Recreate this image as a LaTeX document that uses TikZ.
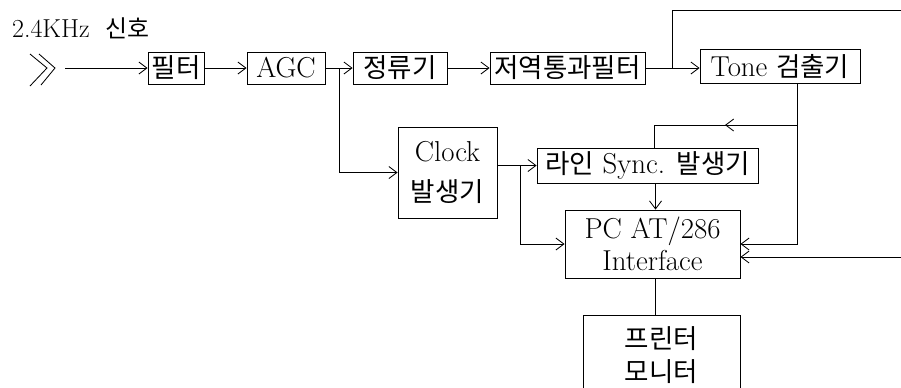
\documentclass[tikz,border=0pt]{standalone}
\usepackage{fontspec}
\newfontfamily\kr[Scale=0.92]{Noto Sans CJK KR}
\usetikzlibrary{arrows.meta, calc}

\begin{document}
\begin{tikzpicture}[x=0.25mm, y=-0.25mm, >={Straight Barb[length=2mm, width=3mm]},
  line width=0.6pt, font=\fontsize{20.5}{23}\selectfont,
  blk/.style={draw, inner sep=0pt, minimum height=8mm, align=center}]

\useasboundingbox (0,0) rectangle (901,387);

\node[anchor=base west, font=\fontsize{18.5}{22}\selectfont] (title) at (7,37) {2.4KHz\ \ {\kr 신호}};

% ---- input terminal ----------------------------------------------------------------
\draw (30,54) -- (47,68) -- (30,86);
\draw (39,54) -- (55,68) -- (41,85);
\coordinate (in) at (65,68);

% ---- top row -----------------------------------------------------------------------
\node[blk, minimum width=14mm] (filt) at (176,68) {\kr 필터};
\node[blk, minimum width=19.5mm] (agc) at (286,68) {AGC};
\node[blk, minimum width=23.5mm] (rect) at (400,68) {\kr 정류기};
\node[blk, minimum width=38.75mm] (lpf) at (567.5,68) {\kr 저역통과필터};
\node[blk, minimum width=40mm, minimum height=8.5mm] (tone) at (780,66) {Tone {\kr 검출기}};

% ---- middle ------------------------------------------------------------------------
\node[blk, minimum width=24.75mm, minimum height=22.75mm] (clk) at (447.5,172.5)
  {Clock\\[5pt]{\kr 발생기}};
\node[blk, minimum width=55.25mm, minimum height=8.75mm] (sync) at (647.5,165.5)
  {{\kr 라인} Sync. {\kr 발생기}};
\node[blk, minimum width=43.75mm, minimum height=17mm] (pc) at (652.5,244)
  {PC AT/286\\Interface};
\node[blk, minimum width=39.25mm, minimum height=20mm] (prn) at (661.5,355)
  {\kr 프린터\\\kr 모니터};

% ---- signal path -------------------------------------------------------------------
\draw[->] (in) -- (filt.west);
\draw[->] (filt.east) -- (agc.west);
\draw[->] (agc.east) -- (rect.west);
\draw[->] (rect.east) -- (lpf.west);
\draw[->] (lpf.east) -- (tone.west |- lpf.east);

\coordinate (j1) at ($(agc.east)+(14,0)$);
\draw[->] (j1) |- (clk.west);

\coordinate (j2) at ($(lpf.east)+(27,0)$);
\coordinate (topR) at (901,10);
\draw (j2) |- (topR);

\coordinate (j3) at ($(clk.east |- sync.west)+(23,0)$);
\draw[->] (clk.east |- sync.west) -- (sync.west);
\draw[->] (j3) |- (pc.west);

\coordinate (sx) at ($(sync.south)+(8,0)$);
\draw[->] (sx) -- (sx |- pc.north);

% ---- feedback from the tone detector -----------------------------------------------
\coordinate (tap) at ($(tone.south)+(17,0)$);
\coordinate (fy) at (0,125);
\draw[->] (tap) |- (pc.east);
\draw[->] (tap |- fy) -- ++(-72,0);
\draw (tap |- fy) -| ($(sync.north)+(7,0)$);

\coordinate (botR) at (901,257);
\draw[->] (botR) -- (pc.east |- botR);

% ---- output ------------------------------------------------------------------------
\draw (sx |- pc.south) -- (sx |- prn.north);

\end{tikzpicture}
\end{document}
